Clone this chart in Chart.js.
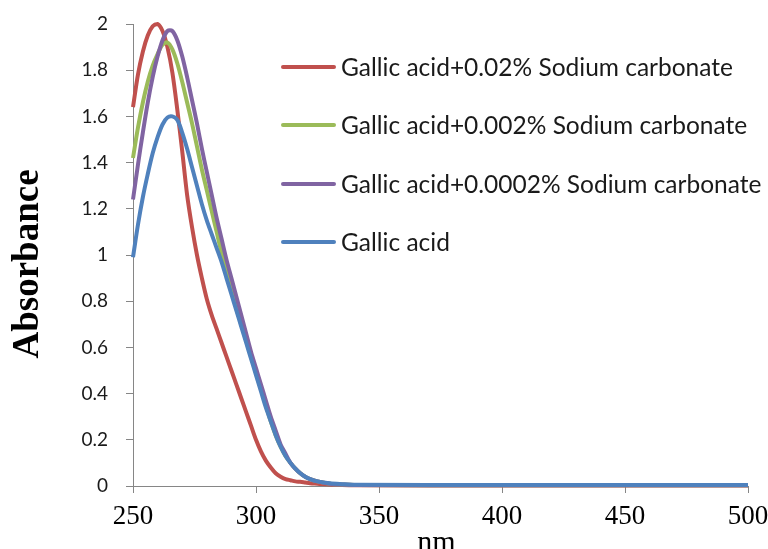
<!DOCTYPE html>
<html>
<head>
  <style>
    body { margin: 0; background: #fff; }
    #wrap { width: 768px; height: 549px; }
  </style>
</head>
<body>
  <div id="wrap">
    <canvas id="chart" width="768" height="549"></canvas>
  </div>
  <script src="https://cdn.jsdelivr.net/npm/chart.js"></script>
  <script>
// wavelength in nm, shared by all four spectra
const wavelength = [250, 252, 254, 256, 258, 260, 262, 264, 266, 268, 270, 272, 274, 276, 278, 280,
  282, 284, 286, 288, 290, 292, 294, 296, 298, 300, 302, 304, 306, 308, 310, 312, 314, 316, 318, 320,
  322, 325, 330, 335, 340, 400, 450, 500];

const seriesNames = [
  'Gallic acid+0.02% Sodium carbonate',
  'Gallic acid+0.002% Sodium carbonate',
  'Gallic acid+0.0002% Sodium carbonate',
  'Gallic acid'
];
const seriesColors = ['#C0504D', '#9BBB59', '#8064A2', '#4F81BD'];

const carbonate002 = [1.64, 1.78, 1.88, 1.95, 1.99, 2.0, 1.97, 1.9, 1.79, 1.63, 1.45, 1.26, 1.12, 1.0, 0.9, 0.81,
  0.74, 0.68, 0.62, 0.56, 0.5, 0.44, 0.38, 0.32, 0.26, 0.2, 0.15, 0.11, 0.08, 0.055, 0.04, 0.03, 0.025, 0.02, 0.018, 0.015,
  0.012, 0.01, 0.006, 0.004, 0.003, 0.002, 0.002, 0.002];
const carbonate0002 = [1.42, 1.55, 1.66, 1.75, 1.82, 1.87, 1.91, 1.92, 1.89, 1.83, 1.75, 1.66, 1.57, 1.47, 1.37, 1.28,
  1.19, 1.1, 1.01, 0.93, 0.85, 0.77, 0.7, 0.63, 0.56, 0.49, 0.42, 0.35, 0.28, 0.22, 0.17, 0.13, 0.1, 0.075, 0.055, 0.04,
  0.03, 0.02, 0.01, 0.006, 0.004, 0.003, 0.003, 0.003];
const carbonate00002 = [1.24, 1.39, 1.53, 1.66, 1.77, 1.86, 1.93, 1.97, 1.97, 1.93, 1.86, 1.77, 1.67, 1.57, 1.46, 1.36,
  1.26, 1.16, 1.07, 0.98, 0.9, 0.82, 0.74, 0.66, 0.58, 0.51, 0.44, 0.37, 0.3, 0.24, 0.18, 0.14, 0.1, 0.075, 0.055, 0.04,
  0.03, 0.02, 0.01, 0.006, 0.004, 0.003, 0.003, 0.003];
const gallicAcid = [0.99, 1.13, 1.25, 1.35, 1.44, 1.51, 1.565, 1.595, 1.6, 1.585, 1.53, 1.46, 1.38, 1.3, 1.22, 1.15,
  1.09, 1.03, 0.97, 0.9, 0.83, 0.76, 0.69, 0.62, 0.55, 0.48, 0.41, 0.34, 0.28, 0.22, 0.17, 0.13, 0.1, 0.075, 0.055, 0.04,
  0.03, 0.02, 0.012, 0.008, 0.005, 0.004, 0.004, 0.004];

const allSeries = [carbonate002, carbonate0002, carbonate00002, gallicAcid];
const drawOrder = [3, 2, 1, 0]; // gallic acid drawn on top

const axisGrey = '#868686';

// legend sits inside the plot, drawn by hand like the original
const insideLegend = {
  id: 'insideLegend',
  afterDraw(chart) {
    const ctx = chart.ctx;
    const rows = [67, 125, 184, 242];
    ctx.save();
    chart.data.datasets.forEach((ds, i) => {
      ctx.strokeStyle = ds.borderColor;
      ctx.lineWidth = 4;
      ctx.lineCap = 'round';
      ctx.beginPath();
      ctx.moveTo(283, rows[i]);
      ctx.lineTo(334, rows[i]);
      ctx.stroke();
      ctx.fillStyle = '#1a1a1a';
      ctx.font = '24.5px Lato';
      ctx.textBaseline = 'middle';
      ctx.fillText(ds.label, 341, rows[i] + 1);
    });
    ctx.restore();
  }
};

// axis titles
const axisTitles = {
  id: 'axisTitles',
  afterDraw(chart) {
    const ctx = chart.ctx;
    const area = chart.chartArea;
    ctx.save();
    ctx.fillStyle = '#000';
    ctx.textAlign = 'center';
    ctx.textBaseline = 'alphabetic';
    ctx.font = '30px "Liberation Serif"';
    ctx.fillText('nm', (area.left + area.right) / 2 - 4, 551);
    ctx.translate(38, 264);
    ctx.rotate(-Math.PI / 2);
    ctx.font = 'bold 37px "Liberation Serif"';
    ctx.fillText('Absorbance', 0, 0);
    ctx.restore();
  }
};

const ctx = document.getElementById('chart').getContext('2d');
const chart = new Chart(ctx, {
  type: 'line',
  data: {
    datasets: allSeries.map((vals, i) => ({
      label: seriesNames[i],
      data: wavelength.map((x, j) => ({ x: x, y: vals[j] })),
      borderColor: seriesColors[i],
      backgroundColor: seriesColors[i],
      borderWidth: 4,
      pointRadius: 0,
      tension: 0.3,
      fill: false,
      clip: false,
      order: drawOrder[i]
    }))
  },
  options: {
    responsive: false,
    animation: false,
    layout: { padding: { top: 24, right: 20, left: 0, bottom: 0 } },
    plugins: {
      legend: { display: false },
      tooltip: { enabled: false }
    },
    scales: {
      x: {
        type: 'linear',
        min: 250,
        max: 500,
        afterFit(scale) {
          scale.height = 63;
          scale.paddingLeft = 0;
          scale.paddingRight = 0;
        },
        ticks: {
          stepSize: 50,
          color: '#000',
          padding: 8,
          font: { family: 'Liberation Serif', size: 27 }
        },
        grid: { drawOnChartArea: false, drawTicks: true, tickLength: 7, color: axisGrey },
        border: { color: axisGrey, width: 1 }
      },
      y: {
        type: 'linear',
        min: 0,
        max: 2,
        afterFit(scale) {
          scale.width = 133;
          scale.paddingTop = 0;
          scale.paddingBottom = 0;
        },
        ticks: {
          stepSize: 0.2,
          color: '#1a1a1a',
          padding: 18,
          font: { family: 'Lato', size: 19 },
          callback: function (value) {
            return Math.round(value * 10) / 10;
          }
        },
        grid: { drawOnChartArea: false, drawTicks: true, tickLength: 7, color: axisGrey },
        border: { color: axisGrey, width: 1 }
      }
    }
  },
  plugins: [insideLegend, axisTitles]
});
  </script>
</body>
</html>
